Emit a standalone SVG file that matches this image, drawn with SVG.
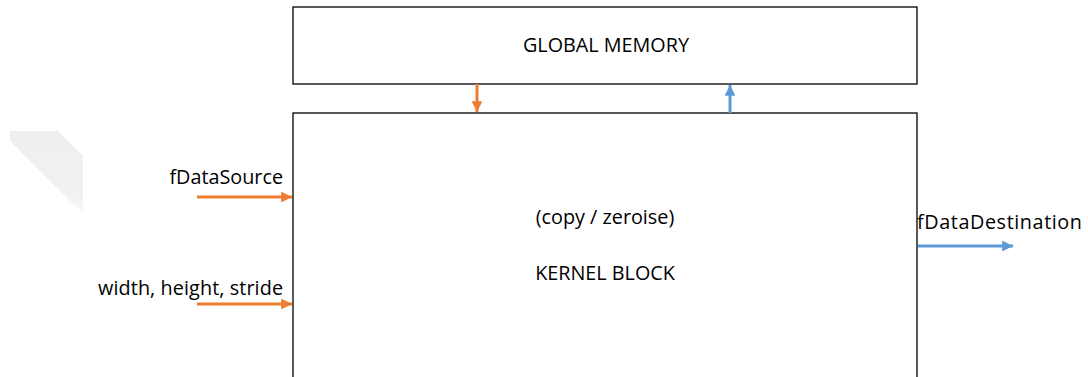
<svg xmlns="http://www.w3.org/2000/svg" width="1088" height="377" viewBox="0 0 1088 377">
<defs>
<style>
.box{fill:#fff;stroke:#000;stroke-width:1.3}
.t{font-family:"Open Sans","Liberation Sans",sans-serif;font-size:19.8px;fill:#000}
.c{text-anchor:middle}
.r{text-anchor:end}
.or{stroke:#ED7D31;stroke-width:3;fill:none}
.bl{stroke:#5B9BD5;stroke-width:3;fill:none}
</style>
<marker id="ao" viewBox="0 0 10 10" refX="10" refY="5" markerWidth="3.6" markerHeight="3.6" orient="auto" markerUnits="strokeWidth"><path d="M0,0 L10,5 L0,10 z" fill="#ED7D31"/></marker>
<marker id="ab" viewBox="0 0 10 10" refX="10" refY="5" markerWidth="3.6" markerHeight="3.6" orient="auto" markerUnits="strokeWidth"><path d="M0,0 L10,5 L0,10 z" fill="#5B9BD5"/></marker>
<linearGradient id="fade" x1="0" y1="0" x2="0" y2="1"><stop offset="0" stop-color="#eeeeee"/><stop offset="0.8" stop-color="#f2f2f2"/><stop offset="1" stop-color="#fafafa"/></linearGradient>
</defs>
<rect width="1088" height="377" fill="#fff"/>
<polygon points="10,131 58,131 83,156 83,214 10,141" fill="url(#fade)"/>
<g id="global-memory">
<rect class="box" x="293" y="7" width="624" height="77"/>
<text class="t c" x="606" y="52">GLOBAL MEMORY</text>
</g>
<g id="kernel-block">
<rect class="box" x="293" y="113" width="624" height="280"/>
<text class="t c" x="605" y="224">(copy / zeroise)</text>
<text class="t c" x="605" y="280">KERNEL BLOCK</text>
</g>
<g id="labels">
<text class="t r" x="283" y="184">fDataSource</text>
<text class="t r" x="283" y="295" textLength="185">width, height, stride</text>
<text class="t" x="917" y="229" textLength="165">fDataDestination</text>
</g>
<g id="connectors">
<line class="or" x1="477" y1="84" x2="477" y2="112" marker-end="url(#ao)"/>
<line class="bl" x1="730" y1="113" x2="730" y2="85" marker-end="url(#ab)"/>
<line class="or" x1="197" y1="197" x2="292" y2="197" marker-end="url(#ao)"/>
<line class="or" x1="197" y1="304" x2="292" y2="304" marker-end="url(#ao)"/>
<line class="bl" x1="918" y1="246" x2="1013" y2="246" marker-end="url(#ab)"/>
</g>
</svg>
